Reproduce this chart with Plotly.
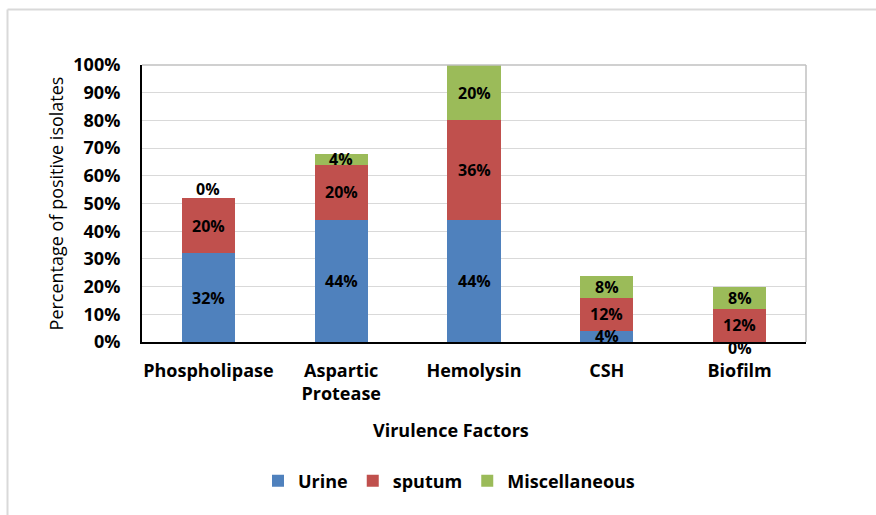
import plotly.graph_objects as go

categories = ["Phospholipase", "Aspartic<br>Protease", "Hemolysin", "CSH", "Biofilm"]
urine = [32, 44, 44, 4, 0]
sputum = [20, 20, 36, 12, 12]
misc = [0, 4, 20, 8, 8]
series_names = ["Urine", "sputum", "Miscellaneous"]
colors = ["#4F81BD", "#C0504D", "#9BBB59"]
y_ticks = list(range(0, 101, 10))
y_tick_labels = [f"{v}%" for v in y_ticks]
x_title = "Virulence Factors"
y_title = "Percentage of positive isolates"

FONT = "Open Sans"
fig = go.Figure()
series = [urine, sputum, misc]
for name, vals, col in zip(series_names, series, colors):
    fig.add_trace(go.Bar(
        x=categories, y=vals, name=f"<b>{name}</b>", marker=dict(color=col, line=dict(width=0)),
    ))

# plot area in page pixels
L, R, T, B = 142, 806, 65, 342
def px(x):
    return (x - L) / (R - L)
def py(y):
    return (B - y) / (B - T)

annotations = []
for i, cat in enumerate(categories):
    base = 0
    for s_idx, vals in enumerate(series):
        v = vals[i]
        yshift = 0
        if v == 0:
            yshift = 9 if base > 0 else -6
        annotations.append(dict(
            x=cat, y=base + v / 2, text=f"<b>{v}%</b>", showarrow=False,
            xref="x", yref="y", yshift=yshift,
            font=dict(family=FONT, size=16, color="black"),
        ))
        base += v

annotations.append(dict(
    x=px(451), y=py(430), xref="paper", yref="paper", showarrow=False,
    text=f"<b>{x_title}</b>", xanchor="center", yanchor="middle",
    font=dict(family=FONT, size=18, color="black"),
))

shapes = [
    dict(type="line", xref="paper", yref="paper", x0=px(7.5), x1=px(7.5), y0=py(9.5), y1=py(515),
         line=dict(color="#d9d9d9", width=2)),
    dict(type="line", xref="paper", yref="paper", x0=px(7.5), x1=px(876), y0=py(9.5), y1=py(9.5),
         line=dict(color="#d9d9d9", width=2)),
    dict(type="line", xref="paper", yref="paper", x0=0, x1=1, y0=1, y1=1,
         line=dict(color="#c0c0c0", width=1.5)),
    dict(type="line", xref="paper", yref="paper", x0=1, x1=1, y0=0, y1=1,
         line=dict(color="#c0c0c0", width=1.5)),
]

fig.update_layout(
    barmode="stack",
    bargap=0.6,
    width=876, height=515,
    margin=dict(l=L, r=876 - R, t=T, b=515 - B, autoexpand=False),
    paper_bgcolor="white", plot_bgcolor="white",
    font=dict(family=FONT, color="black"),
    annotations=annotations,
    shapes=shapes,
    legend=dict(orientation="h", x=px(449), xanchor="center", y=py(481), yanchor="middle",
                font=dict(family=FONT, size=18, color="black"), traceorder="normal",
                itemwidth=30),
    showlegend=True,
)
fig.update_yaxes(
    range=[0, 100], tickvals=y_ticks, ticktext=[f"<b>{t}</b>" for t in y_tick_labels],
    tickfont=dict(family=FONT, size=18, color="black"),
    showgrid=True, gridcolor="#d9d9d9", gridwidth=1,
    showline=True, linecolor="black", linewidth=2, zeroline=False,
    ticks="", ticklabelstandoff=16,
    title=dict(text=y_title, font=dict(family=FONT, size=18, color="black"),
               standoff=5),
)
fig.update_xaxes(
    tickfont=dict(family=FONT, size=18, color="black"),
    tickvals=categories, ticktext=[f"<b>{c}</b>" for c in categories],
    showline=True, linecolor="black", linewidth=2, ticks="", ticklabelstandoff=11,
)

fig.write_html("out.html", post_script="document.body.style.margin='0';",
               config={"displayModeBar": False})
